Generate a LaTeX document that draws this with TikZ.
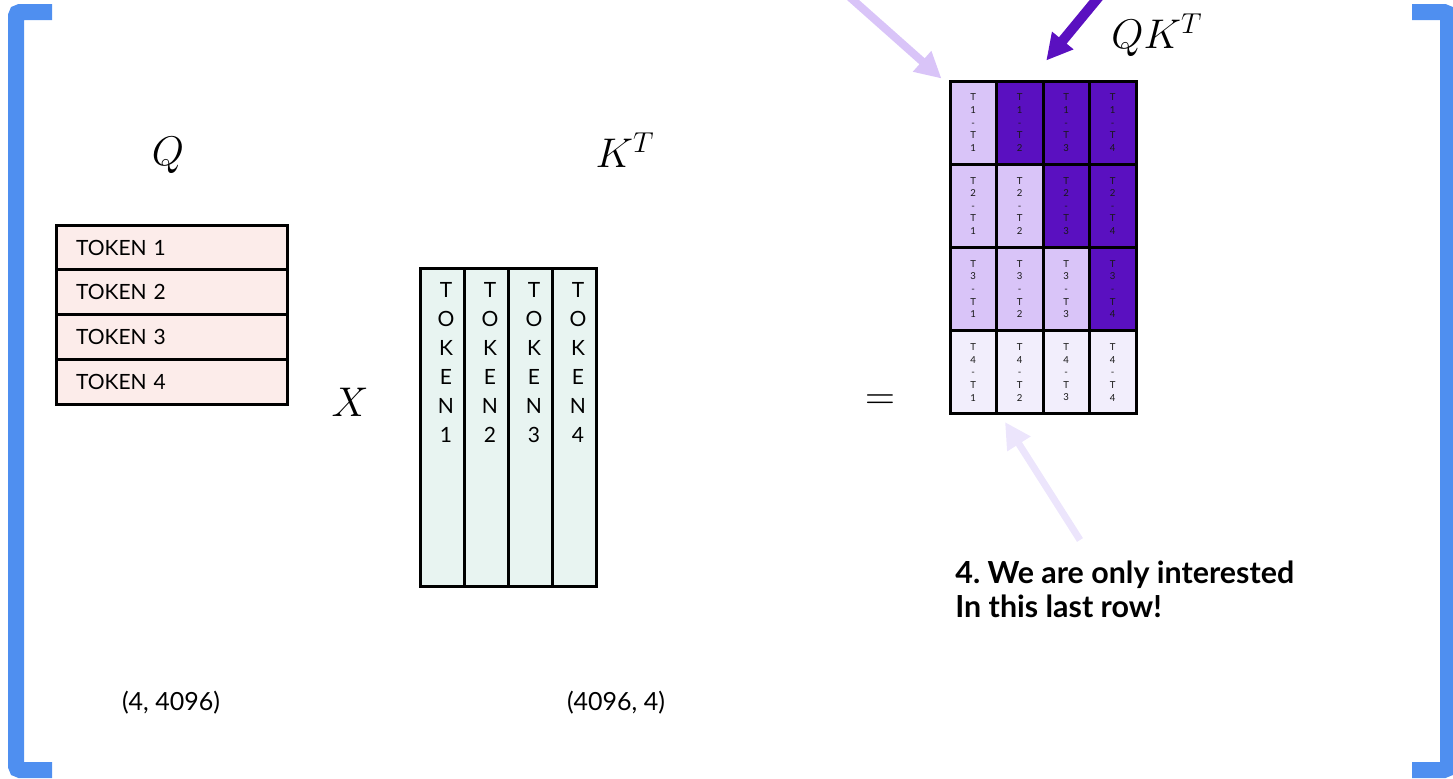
\documentclass[tikz,border=0pt]{standalone}
\usepackage{amsmath}
\usepackage{fontspec}
\setsansfont{Lato}
\usepackage{tikz}
\usetikzlibrary{arrows.meta}
\usepackage{xcolor}

\definecolor{bracketblue}{RGB}{79,143,240}
\definecolor{qpink}{RGB}{252,236,234}
\definecolor{kteal}{RGB}{232,244,241}
\definecolor{lightpurple}{RGB}{217,196,248}
\definecolor{darkpurple}{RGB}{90,16,192}
\definecolor{palepurple}{RGB}{242,238,252}
\definecolor{palearrow}{RGB}{236,229,252}

\tikzset{
  bracket/.style={line width=8pt, draw=bracketblue, rounded corners=2pt},
  qrow/.style={draw, line width=1.5pt, fill=qpink, minimum height=22.4pt,
    text width=95.5pt, inner xsep=10pt, inner ysep=0pt, align=left,
    font=\sffamily\fontsize{10.5}{12}\selectfont},
  kcol/.style={draw, line width=1.5pt, fill=kteal, minimum width=22pt,
    minimum height=159pt, inner sep=0pt},
  kletters/.style={align=center, inner sep=0pt,
    font=\sffamily\fontsize{10.5}{14.5}\selectfont},
  cell/.style={draw, line width=1.5pt, minimum width=23.25pt,
    minimum height=41.6pt, inner sep=0pt, align=center, text=black!90,
    font=\sffamily\fontsize{4.8}{6.3}\selectfont},
  mathlabel/.style={font=\fontsize{21}{25}\selectfont, inner sep=0pt},
  dimlabel/.style={font=\sffamily\fontsize{12.5}{14}\selectfont},
  fatarrow/.style={-{Triangle[length=13pt,width=13pt]}},
}

\begin{document}
\begin{tikzpicture}[x=0.5pt,y=-0.5pt]
        \useasboundingbox (0,0) rectangle (1453,778);

        % 括弧
        \draw[bracket] (52,12) -- (16,12) -- (16,770) -- (52,770);
        \draw[bracket] (1412,12) -- (1448,12) -- (1448,770) -- (1412,770);

        % Q
        \node[mathlabel] (qlabel) at (168,155) {\(Q\)};
        \foreach \i in {1,...,4}
          \node[qrow] (q\i) at (171.5,{247.5+(\i-1)*44.75}) {TOKEN \i};
        \node[dimlabel] (qdim) at (171,703) {(4, 4096)};

        \node[mathlabel] (times) at (350,402) {\(X\)};

        % K^T
        \node[mathlabel] (klabel) at (625,150) {\(K^T\)};
        \foreach \i in {1,...,4}{
          \node[kcol] (k\i) at ({442+(\i-1)*44},427) {};
          \node[kletters, below] (kt\i) at ([xshift=2pt,yshift=-8pt]k\i.north)
            {T\\O\\K\\E\\N\\\i};
        }
        \node[dimlabel] (kdim) at (616,703) {(4096, 4)};

        \node[mathlabel] (equals) at (880,402) {\(=\)};

        % QK^T
        \node[mathlabel] (qklabel) at (1157,35) {\(QK^T\)};
        \foreach \r in {1,...,4}{
          \foreach \c in {1,...,4}{
            \ifnum\r=4 \def\cellfill{palepurple}%
            \else\ifnum\c>\r \def\cellfill{darkpurple}%
            \else \def\cellfill{lightpurple}\fi\fi
            \node[cell, fill=\cellfill] (m\r\c)
              at ({950+(\c-0.5)*46.5},{81+(\r-0.5)*83.25}) {T\\\r\\-\\T\\\c};
          }
        }

        % 注記
        \node[anchor=north west, align=left, inner sep=0pt,
          font=\sffamily\bfseries\fontsize{15.2}{17}\selectfont] (note)
          at (955,561) {4.\ We are only interested\\In this last row!};

        % 矢印
        \coordinate (lightstart) at (826,-24);
        \coordinate (darkstart) at (1116,-24);
        \coordinate (palestart) at (1080,540);
        \coordinate (paletip) at (1005,422);
        \draw[fatarrow, line width=4pt, lightpurple] (lightstart)
          -- ([shift={(-7,-1)}]m11.north west);
        \draw[fatarrow, line width=5pt, darkpurple] (darkstart)
          -- ([shift={(-20,-19)}]m13.north);
        \draw[fatarrow, line width=3.5pt, palearrow] (palestart) -- (paletip);
      \end{tikzpicture}
\end{document}
